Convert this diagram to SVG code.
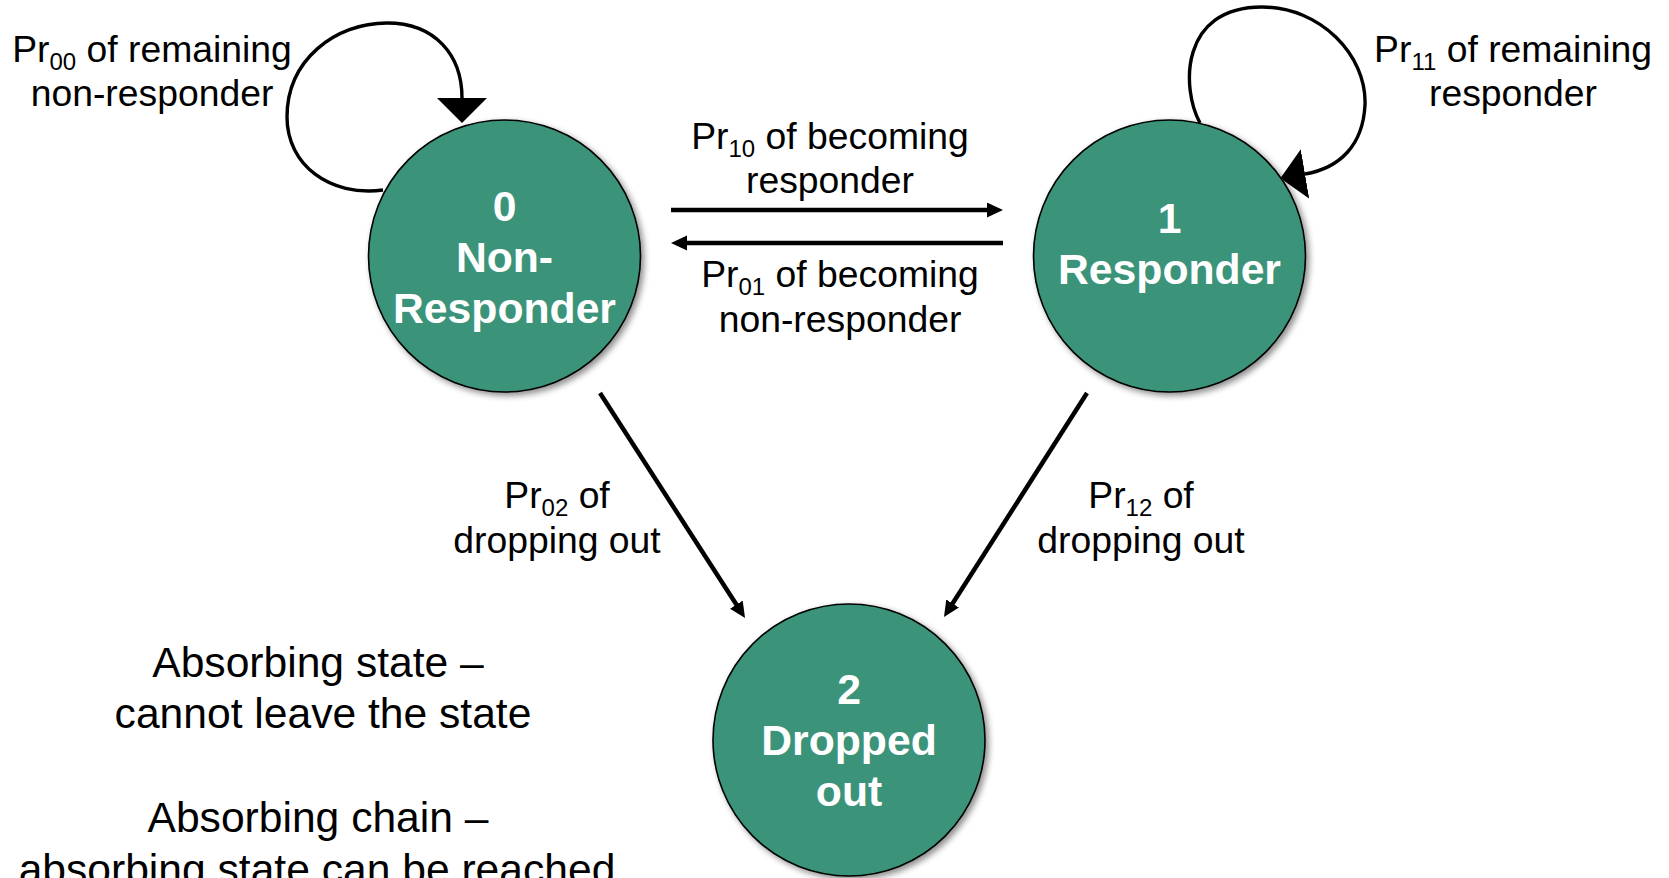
<svg xmlns="http://www.w3.org/2000/svg" width="1669" height="878" viewBox="0 0 1669 878">
<style>
.node{fill:#3a947a;stroke:#000;stroke-width:1.6;filter:url(#sh)}
.nt{font-family:"Liberation Sans",Arial,sans-serif;font-weight:bold;font-size:42.7px;fill:#fff;text-anchor:middle}
.lbl{font-family:"Liberation Sans",Arial,sans-serif;font-size:37.3px;fill:#000;text-anchor:middle}
.note{font-family:"Liberation Sans",Arial,sans-serif;font-size:42.6px;fill:#000;text-anchor:middle}
.sub{font-size:24px}
.edge{fill:none;stroke:#000;stroke-width:4.5}
.loop{fill:none;stroke:#000;stroke-width:3.4}
</style>
<defs>
<filter id="sh" x="-10%" y="-10%" width="125%" height="125%">
<feDropShadow dx="3" dy="3" stdDeviation="3" flood-color="#000" flood-opacity="0.45"/>
</filter>
<marker id="ah" markerUnits="userSpaceOnUse" markerWidth="17" markerHeight="16" refX="8" refY="7.5" orient="auto">
<path d="M0,0 L16,7.5 L0,15 z" fill="#000"/>
</marker>
<marker id="big" markerUnits="userSpaceOnUse" markerWidth="27" markerHeight="52" refX="0" refY="25" orient="auto">
<path d="M0,0 L25,25 L0,50 z" fill="#000"/>
</marker>
</defs>
<rect width="1669" height="878" fill="#fff"/>

<g id="connectors">
<path class="loop" d="M383 190 C330 197 287 165 287 117 C287 60 335 23 387 23 C435 23 462 55 462 98" marker-end="url(#big)"/>
<path class="loop" d="M1200 123 C1181 88 1180 7 1262 7 C1320 7 1367 55 1365 105 C1363 145 1340 168 1305 174" marker-end="url(#big)"/>
<path class="edge" d="M671 210 L995 210" marker-end="url(#ah)"/>
<path class="edge" d="M1003 243 L679 243" marker-end="url(#ah)"/>
<path class="edge" d="M600 393 L740.7 611.3" marker-end="url(#ah)"/>
<path class="edge" d="M1087 393 L948.3 610.3" marker-end="url(#ah)"/>
</g>

<g id="node0">
<circle class="node" cx="504.5" cy="256" r="136"/>
<text class="nt" x="504.5" y="221">0</text>
<text class="nt" x="504.5" y="272">Non-</text>
<text class="nt" x="504.5" y="323">Responder</text>
</g>
<g id="node1">
<circle class="node" cx="1169.5" cy="256" r="136"/>
<text class="nt" x="1169.5" y="233">1</text>
<text class="nt" x="1169.5" y="284">Responder</text>
</g>
<g id="node2">
<circle class="node" cx="849" cy="740" r="136"/>
<text class="nt" x="849" y="704">2</text>
<text class="nt" x="849" y="755">Dropped</text>
<text class="nt" x="849" y="806">out</text>
</g>

<g id="labels">
<text class="lbl" x="152" y="62">Pr<tspan class="sub" dy="8">00</tspan><tspan dy="-8"> of remaining</tspan></text>
<text class="lbl" x="152" y="106">non-responder</text>
<text class="lbl" x="1513" y="62">Pr<tspan class="sub" dy="8">11</tspan><tspan dy="-8"> of remaining</tspan></text>
<text class="lbl" x="1513" y="106">responder</text>
<text class="lbl" x="830" y="149">Pr<tspan class="sub" dy="8">10</tspan><tspan dy="-8"> of becoming</tspan></text>
<text class="lbl" x="830" y="193">responder</text>
<text class="lbl" x="840" y="287">Pr<tspan class="sub" dy="8">01</tspan><tspan dy="-8"> of becoming</tspan></text>
<text class="lbl" x="840" y="332">non-responder</text>
<text class="lbl" x="557" y="508">Pr<tspan class="sub" dy="8">02</tspan><tspan dy="-8"> of</tspan></text>
<text class="lbl" x="557" y="553">dropping out</text>
<text class="lbl" x="1141" y="508">Pr<tspan class="sub" dy="8">12</tspan><tspan dy="-8"> of</tspan></text>
<text class="lbl" x="1141" y="553">dropping out</text>
</g>

<g id="notes">
<text class="note" x="318" y="677">Absorbing state –</text>
<text class="note" x="323" y="728">cannot leave the state</text>
<text class="note" x="318" y="832">Absorbing chain –</text>
<text class="note" x="317" y="884">absorbing state can be reached</text>
</g>
</svg>
